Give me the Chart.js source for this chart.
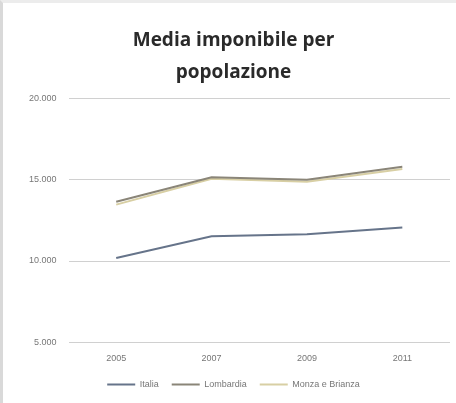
<!DOCTYPE html>
<html>
<head>
<meta charset="utf-8">
<script src="https://cdn.jsdelivr.net/npm/chart.js@4/dist/chart.umd.min.js"></script>
<style>
  html, body { margin: 0; padding: 0; background: #fff; }
  #wrap { width: 453px; height: 400px; border-left: 3px solid #d9d9d9; border-top: 3px solid #ececec; }
</style>
</head>
<body>
<div id="wrap"><canvas id="chart" width="453" height="400"></canvas></div>
<script>
// anni e valori medi dell'imponibile
const anni = ['2005', '2007', '2009', '2011'];
const italia = [10180, 11520, 11650, 12070];
const lombardia = [13650, 15150, 15000, 15800];
const monzaBrianza = [13470, 15060, 14880, 15670];
const tickValori = [5000, 10000, 15000, 20000];

document.addEventListener('DOMContentLoaded', function () {
    const ctx = document.getElementById('chart').getContext('2d');
    new Chart(ctx, {
        type: 'line',
        data: {
            labels: anni,
            datasets: [
                { label: 'Italia', data: italia, borderColor: '#66748a', borderWidth: 2 },
                { label: 'Lombardia', data: lombardia, borderColor: '#8a8578', borderWidth: 2 },
                { label: 'Monza e Brianza', data: monzaBrianza, borderColor: '#d8cfa4', borderWidth: 2 }
            ]
        },
        options: {
            responsive: false,
            animation: false,
            elements: { point: { radius: 0 }, line: { tension: 0 } },
            layout: { padding: { left: 14, right: 6, top: 9, bottom: 4 } },
            scales: {
                x: {
                    offset: true,
                    grid: { display: false },
                    border: { display: false },
                    ticks: { color: '#777', font: { family: 'Liberation Sans', size: 9 }, padding: 3 }
                },
                y: {
                    min: 5000, max: 20000,
                    afterBuildTicks: function (axis) { axis.ticks = tickValori.map(v => ({ value: v })); },
                    grid: { color: '#d0d0d0', lineWidth: 1, drawTicks: false },
                    border: { display: false },
                    ticks: {
                        color: '#777', font: { family: 'Liberation Sans', size: 9 }, padding: 12,
                        callback: v => v.toLocaleString('it-IT').replace(/\s/g, '.')
                    }
                }
            },
            plugins: {
                title: {
                    display: true,
                    text: ['Media imponibile per', 'popolazione'],
                    color: '#2a2a2a',
                    font: { family: 'Open Sans', size: 19, weight: 'bold', lineHeight: 1.7 },
                    padding: { top: 12, bottom: 10 }
                },
                legend: {
                    position: 'bottom',
                    labels: {
                        color: '#777', font: { family: 'Liberation Sans', size: 9 },
                        boxWidth: 28, boxHeight: 0, padding: 13
                    }
                },
                tooltip: { enabled: false }
            }
        }
    });
});
</script>
</body>
</html>
